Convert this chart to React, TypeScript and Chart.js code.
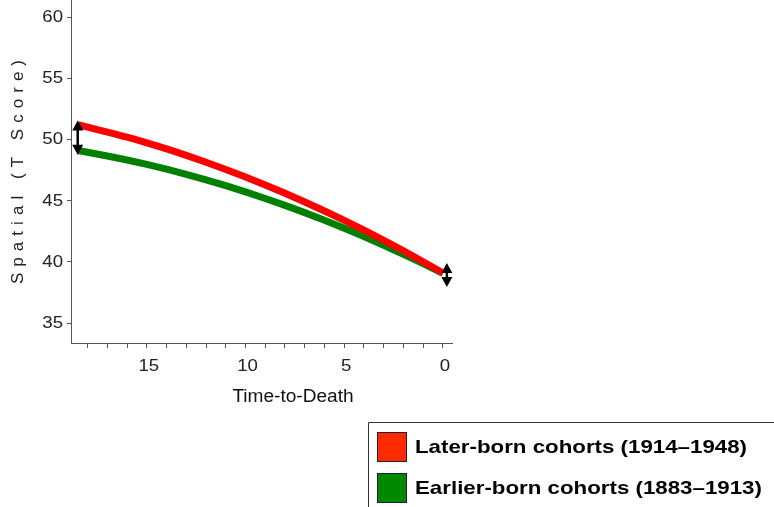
import React, { useEffect, useRef } from "react";
import { Chart, registerables } from "chart.js";

Chart.register(...registerables);

// Years before death
const years = [18.5, 18, 17, 16, 15, 14, 13, 12, 11, 10, 9, 8, 7, 6, 5, 4, 3, 2, 1, 0];
const laterBorn = [51.2, 51.0, 50.6, 50.18, 49.72, 49.23, 48.7, 48.14, 47.55, 46.93, 46.28, 45.6, 44.89, 44.15, 43.38, 42.58, 41.75, 40.89, 40.0, 39.08];
const earlierBorn = [49.1, 48.95, 48.65, 48.32, 47.96, 47.57, 47.15, 46.7, 46.22, 45.71, 45.17, 44.61, 44.02, 43.4, 42.75, 42.07, 41.36, 40.62, 39.85, 39.05];

const seriesLabels = ["Later-born cohorts (1914\u20131948)", "Earlier-born cohorts (1883\u20131913)"];
const xTitle = "Time-to-Death";
const yTitle = "Spatial (T Score)";
const xLabelTicks = [15, 10, 5, 0];
const yLabelTicks = [35, 40, 45, 50, 55, 60];
// double arrows: [x, yTop, yBottom]
const arrowMarks = [
  [18.5, 51.55, 48.75],
  [-0.2, 39.9, 37.95],
];

const FONT = '"Liberation Sans", Arial, Helvetica, sans-serif';

function stretchedText(
  ctx: CanvasRenderingContext2D,
  text: string,
  x: number,
  y: number,
  sx: number,
  align: CanvasTextAlign
) {
  ctx.save();
  ctx.translate(x, y);
  ctx.scale(sx, 1);
  ctx.textAlign = align;
  ctx.textBaseline = "middle";
  ctx.fillText(text, 0, 0);
  ctx.restore();
}

export default function App() {
  const ref = useRef<HTMLCanvasElement | null>(null);

  useEffect(() => {
    const canvas = ref.current;
    if (!canvas) return;

    const overlay = {
      id: "overlay",
      afterDraw(chart: any) {
        const ctx = chart.ctx as CanvasRenderingContext2D;
        const xs = chart.scales.x;
        const ys = chart.scales.y;

        // arrows
        ctx.save();
        ctx.strokeStyle = "#000";
        ctx.fillStyle = "#000";
        ctx.lineWidth = 2.5;
        for (const [xv, y1v, y2v] of arrowMarks) {
          const px = xs.getPixelForValue(xv);
          const p1 = ys.getPixelForValue(y1v);
          const p2 = ys.getPixelForValue(y2v);
          const head = 10;
          const hw = 5.5;
          ctx.beginPath();
          ctx.moveTo(px, p1 + head - 1);
          ctx.lineTo(px, p2 - head + 1);
          ctx.stroke();
          ctx.beginPath();
          ctx.moveTo(px, p1);
          ctx.lineTo(px - hw, p1 + head);
          ctx.lineTo(px + hw, p1 + head);
          ctx.closePath();
          ctx.fill();
          ctx.beginPath();
          ctx.moveTo(px, p2);
          ctx.lineTo(px - hw, p2 - head);
          ctx.lineTo(px + hw, p2 - head);
          ctx.closePath();
          ctx.fill();
        }
        ctx.restore();

        // tick labels
        ctx.save();
        ctx.fillStyle = "#222";
        ctx.font = `16.5px ${FONT}`;
        for (const v of yLabelTicks) {
          stretchedText(ctx, String(v), 63, ys.getPixelForValue(v) + 0.5, 1.13, "right");
        }
        for (const v of xLabelTicks) {
          stretchedText(ctx, String(v), xs.getPixelForValue(v) + 2, 366, 1.13, "center");
        }
        ctx.restore();

        // x title
        ctx.save();
        ctx.font = `17.5px ${FONT}`;
        ctx.fillStyle = "#111";
        stretchedText(ctx, xTitle, 293, 397, 1.09, "center");
        ctx.restore();

        // y title (letter spaced)
        ctx.save();
        ctx.font = `17px ${FONT}`;
        ctx.fillStyle = "#222";
        const base = ctx.measureText(yTitle).width;
        const n = yTitle.length;
        const span = 224;
        const sp = (span - base) / (n - 1);
        (ctx as any).letterSpacing = `${sp.toFixed(2)}px`;
        ctx.translate(18, 172);
        ctx.rotate(-Math.PI / 2);
        ctx.textAlign = "left";
        ctx.textBaseline = "middle";
        ctx.fillText(yTitle, -span / 2, 0);
        ctx.restore();

        // legend
        ctx.save();
        ctx.strokeStyle = "#333";
        ctx.lineWidth = 1;
        ctx.beginPath();
        ctx.moveTo(368.5, 520);
        ctx.lineTo(368.5, 422.5);
        ctx.lineTo(780, 422.5);
        ctx.stroke();
        const colors = ["#ff2a00", "#008800"];
        const rows = [432, 473];
        ctx.font = `bold 18.5px ${FONT}`;
        const lw = ctx.measureText(seriesLabels[0]).width;
        const lsx = 332 / lw;
        for (let i = 0; i < 2; i++) {
          ctx.fillStyle = colors[i];
          ctx.fillRect(377, rows[i], 30, 30);
          ctx.strokeStyle = "#222";
          ctx.strokeRect(377.5, rows[i] + 0.5, 29, 29);
          ctx.fillStyle = "#000";
          stretchedText(ctx, seriesLabels[i], 415, rows[i] + 16, lsx, "left");
        }
        ctx.restore();
      },
    };

    const chart = new Chart(canvas, {
      type: "line",
      data: {
        labels: years,
        datasets: [
          {
            label: seriesLabels[0],
            data: years.map((x, i) => ({ x, y: laterBorn[i] })),
            borderColor: "#ff0000",
            backgroundColor: "#ff0000",
            borderWidth: 7,
            pointRadius: 0,
            borderCapStyle: "butt",
            cubicInterpolationMode: "monotone",
            fill: false,
          },
          {
            label: seriesLabels[1],
            data: years.map((x, i) => ({ x, y: earlierBorn[i] })),
            borderColor: "#008000",
            backgroundColor: "#008000",
            borderWidth: 7,
            pointRadius: 0,
            borderCapStyle: "butt",
            cubicInterpolationMode: "monotone",
            fill: false,
          },
        ],
      },
      options: {
        responsive: false,
        animation: false,
        devicePixelRatio: 1,
        layout: { padding: { left: 0, right: 322, top: 0, bottom: 0 } },
        plugins: {
          legend: { display: false },
          tooltip: { enabled: false },
        },
        scales: {
          x: {
            type: "linear",
            reverse: true,
            min: -0.46,
            max: 18.84,
            afterFit: (s: any) => {
              s.height = 164;
              s.paddingLeft = 0;
              s.paddingRight = 0;
            },
            grid: {
              display: true,
              drawOnChartArea: false,
              drawTicks: true,
              tickLength: 5,
              color: "#555",
            },
            border: { display: true, color: "#555", width: 1 },
            ticks: {
              display: false,
              stepSize: 1,
              includeBounds: false,
              autoSkip: false,
              maxRotation: 0,
            },
            title: { display: false },
          },
          y: {
            type: "linear",
            min: 33.37,
            max: 61.39,
            afterFit: (s: any) => {
              s.width = 71;
              s.paddingTop = 0;
              s.paddingBottom = 0;
            },
            grid: {
              display: true,
              drawOnChartArea: false,
              drawTicks: true,
              tickLength: 4,
              color: "#555",
            },
            border: { display: true, color: "#555", width: 1 },
            ticks: {
              display: false,
              stepSize: 5,
              includeBounds: false,
            },
            title: { display: false },
          },
        },
      },
      plugins: [overlay],
    } as any);

    return () => chart.destroy();
  }, []);

  return (
    <div style={{ position: "absolute", left: 0, top: 0, width: 774, height: 507, background: "#fff" }}>
      <canvas ref={ref} width={774} height={507} style={{ display: "block", width: 774, height: 507 }} />
    </div>
  );
}
